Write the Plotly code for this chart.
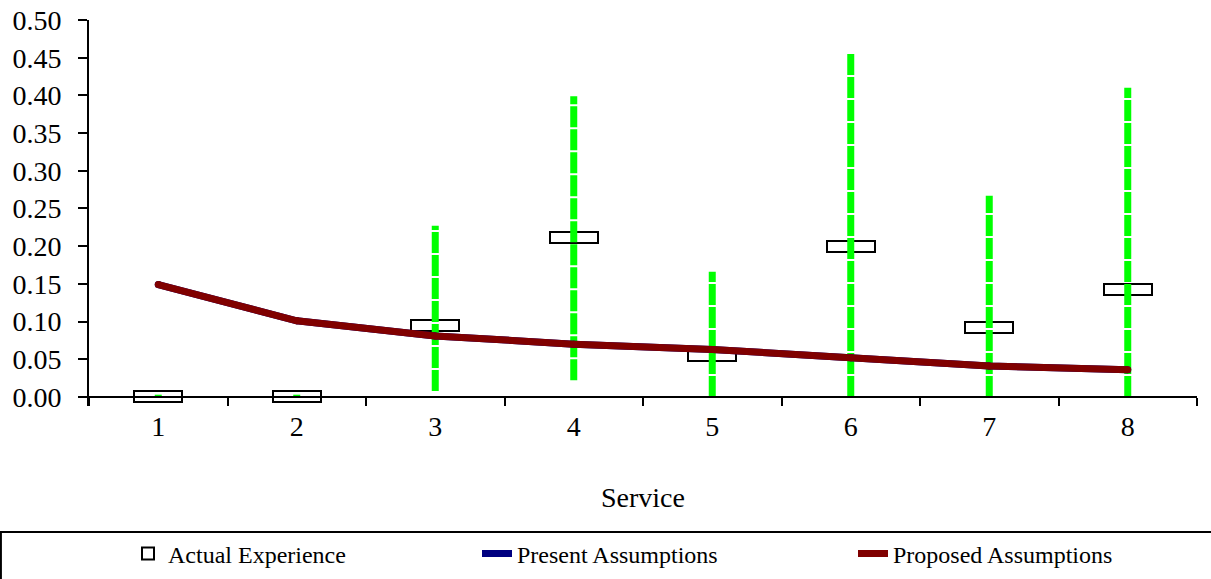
import plotly.graph_objects as go

categories = ["1", "2", "3", "4", "5", "6", "7", "8"]
actual_experience = [0.0, 0.0, 0.095, 0.211, 0.055, 0.200, 0.092, 0.142]
err_low = [0.0, 0.0, 0.008, 0.022, 0.0, 0.0, 0.0, 0.0]
err_high = [0.003, 0.003, 0.227, 0.399, 0.166, 0.455, 0.267, 0.410]
present_assumptions = [0.149, 0.101, 0.081, 0.070, 0.063, 0.052, 0.041, 0.036]
proposed_assumptions = [0.149, 0.101, 0.081, 0.070, 0.063, 0.052, 0.041, 0.036]
y_ticks = [0.0, 0.05, 0.10, 0.15, 0.20, 0.25, 0.30, 0.35, 0.40, 0.45, 0.50]

FONT = "Liberation Serif, Times New Roman, serif"
BOX_H = 0.0146
Y_MIN = -0.012
Y_MAX = 0.5
W = 1211
H = 579

fig = go.Figure()

# hollow rectangles for actual experience
fig.add_trace(go.Bar(
    x=categories,
    y=[BOX_H] * len(categories),
    base=[v - BOX_H / 2 for v in actual_experience],
    width=0.35,
    marker=dict(color="rgba(0,0,0,0)", line=dict(color="black", width=2)),
    name="Actual Experience",
    legend="legend",
))

# green dashed range lines
ex, ey = [], []
for c, lo, hi in zip(categories, err_low, err_high):
    ex += [c, c, None]
    ey += [lo, hi, None]
fig.add_trace(go.Scatter(
    x=ex, y=ey, mode="lines",
    line=dict(color="#00FF00", width=7, dash="21px,2px"),
    showlegend=False, hoverinfo="skip",
))

fig.add_trace(go.Scatter(
    x=categories, y=present_assumptions, mode="lines+markers",
    line=dict(color="#000080", width=7),
    marker=dict(color="#000080", size=7, line=dict(width=0)),
    name="Present Assumptions",
    legend="legend2",
))
fig.add_trace(go.Scatter(
    x=categories, y=proposed_assumptions, mode="lines+markers",
    line=dict(color="#800000", width=7),
    marker=dict(color="#800000", size=7, line=dict(width=0)),
    name="Proposed Assumptions",
    legend="legend3",
))

fig.add_shape(
    type="rect", xref="paper", yref="paper",
    x0=-0.0795, x1=1.02, y0=-0.3264, y1=-0.50,
    line=dict(color="black", width=2), fillcolor="rgba(0,0,0,0)",
)

legend_common = dict(
    orientation="h", xref="container", yref="container",
    y=1 - 554 / H, yanchor="middle", xanchor="left",
    font=dict(family=FONT, size=24, color="black"),
    bgcolor="rgba(0,0,0,0)", borderwidth=0,
)

fig.update_layout(
    width=W, height=H,
    margin=dict(l=89, r=W - 1197, t=20, b=H - 406, autoexpand=False),
    plot_bgcolor="white", paper_bgcolor="white",
    font=dict(family=FONT, color="black", size=28),
    showlegend=True,
    legend=dict(x=128 / W, **legend_common),
    legend2=dict(x=477 / W, **legend_common),
    legend3=dict(x=853 / W, **legend_common),
    bargap=0,
)

fig.update_xaxes(
    type="category", range=[-0.5, 7.5],
    anchor="free", position=(0 - Y_MIN) / (Y_MAX - Y_MIN),
    showline=True, linecolor="black", linewidth=2,
    ticks="outside", ticklen=8, tickwidth=2, tickcolor="black",
    tickson="boundaries", showgrid=False, zeroline=False,
    title=dict(text="Service", font=dict(family=FONT, size=28), standoff=46),
    tickfont=dict(family=FONT, size=28),
    ticklabelstandoff=4,
    automargin=False,
)
fig.update_yaxes(
    range=[Y_MIN, Y_MAX], tickvals=y_ticks, tickformat=".2f",
    showline=True, linecolor="black", linewidth=2,
    ticks="outside", ticklen=9, tickwidth=2, tickcolor="black",
    showgrid=False, zeroline=False,
    tickfont=dict(family=FONT, size=28),
    ticklabelstandoff=11,
    automargin=False,
)

fig.write_html(
    "out.html",
    config={"displayModeBar": False},
    post_script="document.body.style.margin='0';",
)
